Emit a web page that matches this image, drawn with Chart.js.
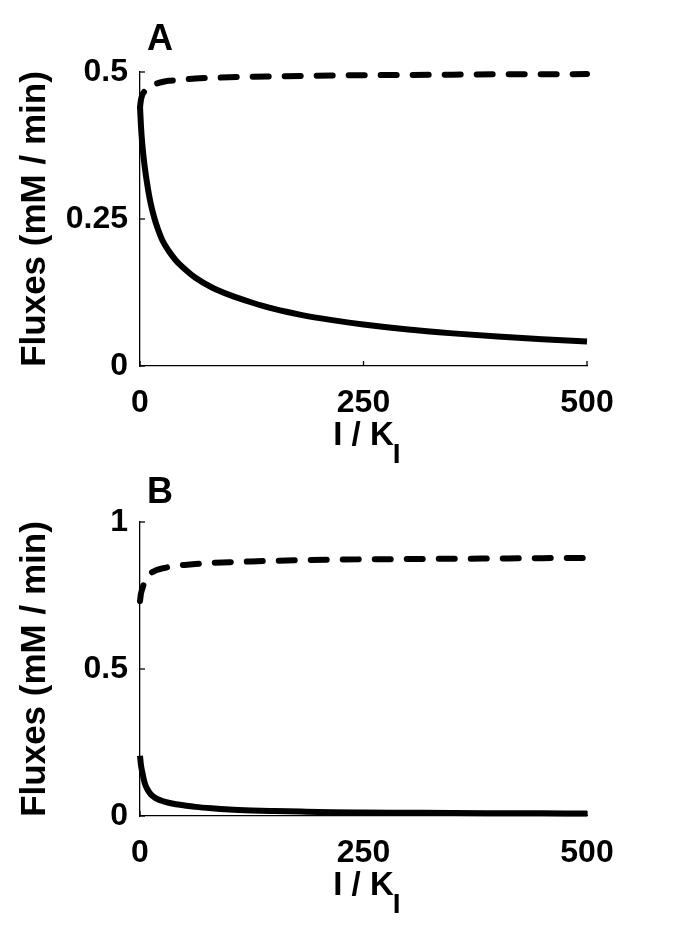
<!DOCTYPE html>
<html><head><meta charset="utf-8">
<script src="https://cdn.jsdelivr.net/npm/chart.js@4/dist/chart.umd.min.js"></script>
<style>
html,body{margin:0;padding:0;background:#fff;width:685px;height:951px;overflow:hidden}
.p{position:absolute;left:0;width:685px;height:475px}
canvas{display:block}
</style></head><body>
<div class="p" style="top:0"><canvas id="cA" width="685" height="475"></canvas></div>
<div class="p" style="top:450px"><canvas id="cB" width="685" height="475"></canvas></div>
<script>
// ---- data ----
const xValues = [0, 1, 2.5, 5, 8, 12, 16, 20, 25, 32, 40, 50, 62, 80, 100, 125, 150, 180, 215, 250, 300, 350, 400, 450, 500];
const panelA_solid = [0.442, 0.41, 0.378, 0.342, 0.31, 0.276, 0.252, 0.233, 0.214, 0.196, 0.180, 0.165, 0.150, 0.134, 0.121, 0.108, 0.097, 0.087, 0.078, 0.0705, 0.062, 0.0555, 0.050, 0.0455, 0.0415];
const panelA_dashed = [0.440, 0.452, 0.461, 0.467, 0.472, 0.476, 0.479, 0.481, 0.483, 0.485, 0.486, 0.4875, 0.489, 0.490, 0.491, 0.492, 0.4925, 0.493, 0.494, 0.4945, 0.495, 0.4955, 0.496, 0.496, 0.4965];
const panelB_solid = [0.205, 0.175, 0.150, 0.115, 0.092, 0.074, 0.064, 0.057, 0.051, 0.045, 0.040, 0.036, 0.031, 0.026, 0.022, 0.019, 0.017, 0.015, 0.013, 0.012, 0.011, 0.010, 0.0095, 0.009, 0.0085];
const panelB_dashed = [0.731, 0.755, 0.772, 0.795, 0.812, 0.826, 0.833, 0.838, 0.842, 0.847, 0.851, 0.854, 0.857, 0.861, 0.863, 0.866, 0.868, 0.870, 0.872, 0.873, 0.874, 0.875, 0.876, 0.877, 0.878];
const xTicks = [0, 250, 500];
const xTickLabels = ['0', '250', '500'];
const yTicksA = [0, 0.25, 0.5];
const yTickLabelsA = ['0', '0.25', '0.5'];
const yTicksB = [0, 0.5, 1];
const yTickLabelsB = ['0', '0.5', '1'];
const yTitle = 'Fluxes (mM / min)';
const xTitle = 'I / K';
const xTitleSub = 'I';

const FONT = '"Liberation Sans", Arial, Helvetica, sans-serif';

const decor = {
  id: 'decor',
  afterDraw(chart, args, o) {
    const {ctx, chartArea: a, scales: {x, y}} = chart;
    ctx.save();
    ctx.strokeStyle = '#000';
    ctx.lineWidth = 1.3;
    x.ticks.forEach(t => {
      const px = x.getPixelForValue(t.value);
      ctx.beginPath(); ctx.moveTo(px, a.bottom); ctx.lineTo(px, a.bottom - 5); ctx.stroke();
    });
    y.ticks.forEach(t => {
      const py = y.getPixelForValue(t.value);
      ctx.beginPath(); ctx.moveTo(a.left, py); ctx.lineTo(a.left + 5, py); ctx.stroke();
    });
    ctx.fillStyle = '#000';
    ctx.font = 'bold 36px ' + FONT;
    ctx.textBaseline = 'alphabetic';
    ctx.textAlign = 'left';
    ctx.fillText(o.letter, o.lx, o.ly);
    // subscript of the x title
    ctx.font = 'bold 33px ' + FONT;
    const w = ctx.measureText(xTitle).width;
    const cx = (a.left + a.right) / 2;
    ctx.font = 'bold 28px ' + FONT;
    ctx.fillText(xTitleSub, cx + w / 2 - 1, o.subY);
    ctx.restore();
  }
};

function makeChart(id, solid, dashed, yTicks, yLabels, yMax, letter, ly) {
  const pts = arr => xValues.map((v, i) => ({x: v, y: arr[i]}));
  return new Chart(document.getElementById(id), {
    type: 'line',
    data: {
      datasets: [
        {data: pts(dashed), borderColor: '#000', borderWidth: 6, borderDash: [16, 16], borderCapStyle: 'round',
         pointRadius: 0, fill: false, cubicInterpolationMode: 'monotone', clip: false},
        {data: pts(solid), borderColor: '#000', borderWidth: 6, borderCapStyle: 'butt',
         pointRadius: 0, fill: false, cubicInterpolationMode: 'monotone', clip: false}
      ]
    },
    options: {
      responsive: false, animation: false, devicePixelRatio: 1,
      layout: {padding: {left: 0, top: 72, right: 98, bottom: 9}},
      plugins: {legend: {display: false}, tooltip: {enabled: false},
        decor: {letter: letter, lx: 147, ly: ly, subY: 463}},
      scales: {
        x: {
          type: 'linear', min: 0, max: 500,
          afterBuildTicks: s => { s.ticks = xTicks.map(v => ({value: v})); },
          afterFit: s => { s.height = 100; },
          grid: {display: false, drawTicks: false},
          border: {display: true, color: '#000', width: 1.3},
          ticks: {autoSkip: false, maxRotation: 0, padding: 18, color: '#000',
            font: {family: FONT, size: 32, weight: 'bold'},
            callback: v => xTickLabels[xTicks.indexOf(v)]},
          title: {display: true, text: xTitle, color: '#000', padding: {top: 0, bottom: 10},
            font: {family: FONT, size: 33, weight: 'bold'}}
        },
        y: {
          type: 'linear', min: 0, max: yMax,
          afterBuildTicks: s => { s.ticks = yTicks.map(v => ({value: v})); },
          afterFit: s => { s.width = 140; },
          grid: {display: false, drawTicks: false},
          border: {display: true, color: '#000', width: 1.3},
          ticks: {autoSkip: false, padding: 12, color: '#000',
            font: {family: FONT, size: 32, weight: 'bold'},
            callback: v => yLabels[yTicks.indexOf(v)]},
          title: {display: true, text: yTitle, color: '#000', padding: {top: 14, bottom: 0},
            font: {family: FONT, size: 35, weight: 'bold'}}
        }
      }
    },
    plugins: [decor]
  });
}

makeChart('cA', panelA_solid, panelA_dashed, yTicksA, yTickLabelsA, 0.5, 'A', 50);
makeChart('cB', panelB_solid, panelB_dashed, yTicksB, yTickLabelsB, 1, 'B', 53);
</script>
</body></html>
